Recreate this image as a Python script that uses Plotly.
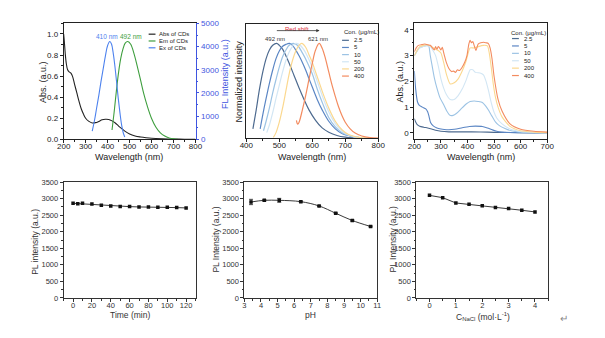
import plotly.graph_objects as go

W, H = 605, 338
FONT = "Arial, Liberation Sans, sans-serif"

# ---------------- data ----------------
# (a) absorption / excitation / emission of the CDs
abs_wl = [200, 203, 207, 212, 218, 225, 232, 240, 250, 260, 270, 280, 290, 300, 315, 330, 345,
          360, 375, 390, 405, 420, 435, 450, 465, 480, 500, 525, 550, 575, 600, 650, 700, 750, 800]
abs_val = [1.0, 0.93, 0.82, 0.72, 0.66, 0.64, 0.63, 0.6, 0.52, 0.44, 0.36, 0.29, 0.24, 0.2, 0.17,
           0.155, 0.158, 0.17, 0.185, 0.19, 0.188, 0.175, 0.155, 0.125, 0.1, 0.075, 0.05, 0.032,
           0.022, 0.015, 0.01, 0.005, 0.002, 0.001, 0.0]
ex_wl = [330, 340, 350, 360, 370, 380, 390, 400, 410, 418, 425, 432, 440, 448, 456, 464, 472, 478]
ex_val = [350, 800, 1350, 1900, 2500, 3050, 3600, 4050, 4220, 4100, 3750, 3250, 2550, 1800, 1150,
          600, 250, 100]
em_wl = [420, 430, 440, 450, 460, 470, 480, 492, 505, 520, 535, 550, 565, 580, 600, 620, 640, 660,
         680, 700, 720]
em_val = [400, 1200, 2100, 2900, 3500, 3900, 4150, 4220, 4100, 3700, 3150, 2550, 1950, 1450, 900,
          520, 280, 140, 60, 20, 5]

# (b) normalized emission at different concentrations
conc_names = ["2.5", "5", "10", "50", "200", "400"]
conc_colors = ["#4d6a8f", "#5b86c4", "#9cc3e4", "#d2e6f4", "#fbd88f", "#f38b5f"]
em_norm_wl = [
    [420, 425, 430, 440, 450, 460, 470, 480, 492, 500, 510, 520, 530, 545, 560, 575, 590, 610, 630,
     650, 675, 700, 725],
    [442, 450, 460, 470, 480, 490, 500, 510, 520, 531, 540, 550, 560, 570, 580, 590, 600, 615, 630,
     650, 670, 690, 720, 750],
    [452, 460, 470, 480, 490, 500, 510, 520, 530, 542, 555, 570, 585, 600, 615, 630, 650, 670, 690,
     720, 750],
    [462, 470, 480, 490, 500, 510, 520, 530, 540, 550, 560, 575, 590, 605, 620, 640, 660, 680, 700,
     730, 760],
    [482, 490, 500, 510, 520, 530, 540, 550, 560, 568, 580, 590, 600, 610, 620, 635, 650, 670, 690,
     710, 740, 770],
    [552, 554, 556, 560, 570, 580, 590, 600, 610, 621, 630, 640, 650, 660, 670, 680, 690, 700, 715,
     730, 750, 775, 800],
]
em_norm_val = [
    [0.10, 0.2, 0.3, 0.52, 0.7, 0.84, 0.93, 0.98, 1.0, 0.98, 0.94, 0.87, 0.79, 0.66, 0.53, 0.41,
     0.3, 0.19, 0.11, 0.065, 0.03, 0.012, 0.004],
    [0.10, 0.25, 0.42, 0.58, 0.72, 0.84, 0.92, 0.97, 0.99, 1.0, 0.98, 0.93, 0.87, 0.8, 0.72, 0.63,
     0.54, 0.41, 0.3, 0.18, 0.1, 0.05, 0.02, 0.005],
    [0.08, 0.18, 0.32, 0.48, 0.62, 0.75, 0.86, 0.93, 0.98, 1.0, 0.98, 0.9, 0.8, 0.68, 0.52, 0.38,
     0.22, 0.12, 0.06, 0.02, 0.005],
    [0.06, 0.14, 0.27, 0.42, 0.56, 0.7, 0.82, 0.91, 0.97, 1.0, 0.99, 0.93, 0.83, 0.7, 0.55, 0.36,
     0.21, 0.11, 0.05, 0.015, 0.003],
    [0.01, 0.06, 0.17, 0.32, 0.5, 0.68, 0.82, 0.92, 0.98, 1.0, 0.96, 0.88, 0.8, 0.7, 0.6, 0.45,
     0.32, 0.18, 0.09, 0.04, 0.01, 0.002],
    [0.19, 0.16, 0.15, 0.17, 0.3, 0.45, 0.62, 0.79, 0.93, 1.0, 0.95, 0.84, 0.7, 0.56, 0.44, 0.33,
     0.24, 0.17, 0.1, 0.055, 0.025, 0.008, 0.002],
]

# (c) absorption at different concentrations
uv_wl = [
    [200, 205, 210, 220, 235, 250, 265, 280, 300, 330, 380, 450, 500, 600, 700],
    [200, 205, 212, 218, 230, 243, 250, 255, 261, 270, 285, 300, 322, 340, 358, 380, 407, 430, 456,
     475, 493, 510, 529, 560, 600, 700],
    [200, 220, 240, 250, 255, 260, 267, 275, 285, 297, 310, 322, 334, 346, 358, 375, 395, 410, 426,
     440, 456, 468, 480, 492, 505, 520, 541, 565, 590, 640, 700],
    [200, 215, 230, 245, 260, 270, 280, 290, 300, 310, 320, 335, 350, 365, 380, 395, 410, 420, 430,
     450, 460, 470, 480, 490, 500, 510, 530, 560, 600, 650, 700],
    [200, 210, 220, 235, 250, 265, 280, 290, 300, 310, 320, 335, 350, 365, 380, 395, 410, 425, 440,
     460, 475, 482, 490, 497, 505, 515, 530, 560, 600, 650, 700],
    [200, 207, 215, 228, 240, 250, 260, 268, 275, 280, 285, 290, 295, 300, 305, 312, 320, 330, 340,
     348, 355, 362, 370, 380, 390, 398, 405, 410, 415, 420, 425, 432, 440, 450, 460, 470, 478, 485,
     492, 500, 515, 530, 560, 600, 650, 700],
]
uv_val = [
    [0.55, 0.42, 0.33, 0.26, 0.22, 0.19, 0.15, 0.1, 0.06, 0.04, 0.04, 0.035, 0.02, 0.01, 0.0],
    [2.4, 1.7, 1.2, 1.08, 1.0, 0.93, 0.82, 0.65, 0.4, 0.28, 0.19, 0.15, 0.12, 0.13, 0.15, 0.2, 0.25,
     0.26, 0.25, 0.19, 0.12, 0.06, 0.03, 0.015, 0.01, 0.0],
    [3.0, 3.3, 3.38, 3.4, 3.35, 3.0, 2.6, 2.15, 1.74, 1.35, 1.1, 0.85, 0.68, 0.68, 0.75, 0.92, 1.12,
     1.22, 1.24, 1.22, 1.18, 1.05, 0.87, 0.65, 0.43, 0.28, 0.17, 0.08, 0.04, 0.01, 0.0],
    [3.0, 3.25, 3.35, 3.38, 3.35, 3.2, 3.0, 2.6, 2.1, 1.75, 1.5, 1.3, 1.3, 1.45, 1.7, 2.05, 2.45,
     2.45, 2.35, 2.32, 2.25, 2.0, 1.6, 1.15, 0.8, 0.58, 0.35, 0.15, 0.05, 0.02, 0.0],
    [3.0, 3.2, 3.35, 3.4, 3.42, 3.35, 3.25, 3.2, 3.1, 2.75, 2.3, 1.9, 1.95, 2.1, 2.4, 2.8, 3.3,
     3.3, 3.35, 3.4, 3.38, 3.1, 2.5, 1.9, 1.4, 1.0, 0.62, 0.25, 0.08, 0.03, 0.01],
    [3.15, 3.3, 3.4, 3.43, 3.45, 3.42, 3.4, 3.3, 3.22, 3.35, 3.25, 3.35, 3.3, 3.22, 3.32, 3.05, 2.75,
     2.5, 2.38, 2.4, 2.35, 2.45, 2.42, 2.55, 2.75, 3.0, 3.45, 3.6, 3.5, 3.55, 3.4, 3.2, 3.45, 3.5,
     3.52, 3.5, 3.48, 3.3, 2.9, 2.2, 1.3, 0.85, 0.35, 0.14, 0.06, 0.03],
]

# (d) stability over time
time_min = [0, 5, 10, 20, 30, 40, 50, 60, 70, 80, 90, 100, 110, 120]
pl_time = [2860, 2850, 2860, 2840, 2800, 2780, 2760, 2760, 2750, 2750, 2740, 2740, 2730, 2720]

# (e) pH dependence
ph = [3.4, 4.2, 5.1, 6.4, 7.5, 8.5, 9.5, 10.6]
pl_ph = [2900, 2950, 2950, 2910, 2780, 2560, 2340, 2160]
pl_ph_err = [80, 20, 60, 15, 15, 15, 20, 15]

# (f) ionic strength
nacl = [0, 0.5, 1.0, 1.5, 2.0, 2.5, 3.0, 3.5, 4.0]
pl_nacl = [3100, 3030, 2870, 2830, 2790, 2730, 2700, 2650, 2600]

# ---------------- layout helpers ----------------
def dx(a, b):
    return [a / W, b / W]


def dy(top, bottom):
    return [1 - bottom / H, 1 - top / H]


def px(x):
    return x / W


def py(y):
    return 1 - y / H


BLUE = "#4d82ee"
BLUE_AX = "#3f55e0"
GREEN = "#3e9e3e"
DARK = "#222222"
GREY = "#333333"

fig = go.Figure()

# panel a
fig.add_trace(go.Scatter(x=abs_wl, y=abs_val, mode="lines", line=dict(color=DARK, width=1.1, shape="spline"),
                         xaxis="x", yaxis="y", showlegend=False))
fig.add_trace(go.Scatter(x=em_wl, y=em_val, mode="lines", line=dict(color=GREEN, width=1.1, shape="spline"),
                         xaxis="x", yaxis="y7", showlegend=False))
fig.add_trace(go.Scatter(x=ex_wl, y=ex_val, mode="lines", line=dict(color=BLUE, width=1.1, shape="spline"),
                         xaxis="x", yaxis="y7", showlegend=False))

# panel b
for wl, v, c in zip(em_norm_wl, em_norm_val, conc_colors):
    fig.add_trace(go.Scatter(x=wl, y=v, mode="lines", line=dict(color=c, width=1.2, shape="spline"),
                             xaxis="x2", yaxis="y2", showlegend=False))

# panel c
for wl, v, c in zip(uv_wl, uv_val, conc_colors):
    fig.add_trace(go.Scatter(x=wl, y=v, mode="lines", line=dict(color=c, width=1.1, shape="spline", smoothing=0.6),
                             xaxis="x3", yaxis="y3", showlegend=False))

MK = dict(symbol="square", size=3.5, color="#111111")
LN = dict(color=DARK, width=0.9)
fig.add_trace(go.Scatter(x=time_min, y=pl_time, mode="lines+markers", marker=MK, line=LN,
                         xaxis="x4", yaxis="y4", showlegend=False))
fig.add_trace(go.Scatter(x=ph, y=pl_ph, mode="lines+markers", marker=MK, line=dict(LN, shape="spline"),
                         error_y=dict(type="data", array=pl_ph_err, color=DARK, thickness=0.8, width=2),
                         xaxis="x5", yaxis="y5", showlegend=False))
fig.add_trace(go.Scatter(x=nacl, y=pl_nacl, mode="lines+markers", marker=MK, line=LN,
                         xaxis="x6", yaxis="y6", showlegend=False))


def axis(domain, rng, dtick, minor, size, anchor, labels=True, ticks="outside", mirror=True,
         color=DARK, fmt=None, side=None, lw=0.9, standoff=0):
    d = dict(domain=domain, range=rng, anchor=anchor, showgrid=False, zeroline=False,
             showline=True, mirror=mirror, linecolor=color, linewidth=lw, ticks=ticks, ticklen=3,
             tickwidth=0.8, tickcolor=color, showticklabels=labels, ticklabelstandoff=standoff,
             tickfont=dict(family=FONT, size=size, color=color))
    if dtick is not None:
        d["dtick"] = dtick
        d["tick0"] = 0
    if minor:
        d["minor"] = dict(ticks=ticks, ticklen=1.8, dtick=minor, tickcolor=color, tickwidth=0.7)
    if fmt:
        d["tickformat"] = fmt
    if side:
        d["side"] = side
    return d


TOP = dy(20, 139)
BOT = dy(183, 302)
TF, BF = 8, 7.5
fig.update_layout(
    width=W, height=H, margin=dict(l=0, r=0, t=0, b=0),
    paper_bgcolor="white", plot_bgcolor="white",
    xaxis=axis(dx(58, 193), [200, 800], 100, 50, TF, "y", standoff=-4),
    yaxis=axis(TOP, [0, 1.1], 0.2, 0.1, TF, "x", mirror=False, fmt=".1f"),
    yaxis7=dict(axis(TOP, [0, 5000], 1000, 500, TF, "x", mirror=False, color=BLUE_AX, side="right"),
                overlaying="y"),
    xaxis2=axis(dx(245, 380), [400, 800], 100, 50, TF, "y2", standoff=-4),
    yaxis2=axis(dy(21, 138), [0, 1.2], None, None, TF, "x2", labels=False, ticks=""),
    xaxis3=axis(dx(417, 553), [200, 700], 100, 50, TF, "y3", standoff=-4),
    yaxis3=axis(TOP, [-0.25, 4.25], 1, 0.5, TF, "x3"),
    xaxis4=axis(dx(58, 193), [-10, 130], 20, 10, BF, "y4", color=GREY, standoff=-3),
    yaxis4=axis(BOT, [0, 3500], 500, 250, BF, "x4", color=GREY),
    xaxis5=axis(dx(243, 379), [3, 11], 1, 0.5, BF, "y5", color=GREY, standoff=-3),
    yaxis5=axis(BOT, [0, 3500], 500, 250, BF, "x5", color=GREY),
    xaxis6=axis(dx(419, 554), [-0.5, 4.5], 1, 0.5, BF, "y6", color=GREY, standoff=-3),
    yaxis6=axis(BOT, [0, 3500], 500, 250, BF, "x6", color=GREY),
)

ann = []


def text(x, y, s, size, color=DARK, angle=0, xanchor="center"):
    ann.append(dict(x=px(x), y=py(y), xref="paper", yref="paper", text=s, showarrow=False,
                    textangle=angle, xanchor=xanchor, yanchor="middle",
                    font=dict(family=FONT, size=size, color=color)))


# axis titles
text(125, 157, "Wavelength (nm)", 9)
text(37, 80, "Abs. (a.u.)", 9, angle=-90)
text(223, 72, "FL Intensity (a.u.)", 9, color=BLUE_AX, angle=-90)
text(312, 157, "Wavelength (nm)", 9)
text(237, 80, "Normalized intensity", 9, angle=-90)
text(485, 157, "Wavelength (nm)", 9)
text(402, 80, "Abs. (a.u.)", 9, angle=-90)
text(126, 320, "Time (min)", 8.5, color=GREY)
text(28, 244, "PL intensity (a.u.)", 8.5, color=GREY, angle=-90)
text(311, 320, "pH", 8.5, color=GREY)
text(214, 242, "PL Intensity (a.u.)", 8.5, color=GREY, angle=-90)
text(487, 321, "C<sub>NaCl</sub> (mol·L<sup>-1</sup>)", 8.5, color=GREY)
text(395, 242, "PL Intensity (a.u.)", 8.5, color=GREY, angle=-90)

# peak labels, panel a
text(102, 33, "410 nm", 6.5, color=BLUE)
text(127, 33, "492 nm", 6.5, color=GREEN)

# panel b annotations
text(274, 36, "492 nm", 6, color=GREY)
text(318, 36, "621 nm", 6, color=GREY)
text(297, 25.5, "Red shift", 6, color="#e0303a")
ann.append(dict(x=622, y=1.135, ax=488, ay=1.135, xref="x2", yref="y2", axref="x2", ayref="y2",
                showarrow=True, arrowhead=2, arrowsize=0.8, arrowwidth=0.8, arrowcolor=GREY, text=""))

shapes = []


def legend_line(x0, x1, y, color):
    shapes.append(dict(type="line", xref="paper", yref="paper", x0=px(x0), x1=px(x1), y0=py(y), y1=py(y),
                       line=dict(color=color, width=1.2)))


# legend, panel a
for i, (name, col) in enumerate([("Abs of CDs", DARK), ("Em of CDs", GREEN), ("Ex of CDs", BLUE)]):
    y = 31 + 7 * i
    legend_line(145, 152, y, col)
    text(154, y, name, 6, xanchor="left")

# legends, panels b and c
for (lx, ty, y0, step, tx) in [(343, 29, 37.3, 7.35, 343), (517, 30, 35.5, 7.6, 514)]:
    text(tx, ty, "Con. (μg/mL)", 6, xanchor="left")
    for i, (name, col) in enumerate(zip(conc_names, conc_colors)):
        y = y0 + step * i
        legend_line(lx, lx + 7, y, col)
        text(lx + 10, y, name, 6, xanchor="left")

text(570, 323, "↵", 10, color="#888888")

fig.update_layout(annotations=ann, shapes=shapes)
fig.write_html("out.html")
